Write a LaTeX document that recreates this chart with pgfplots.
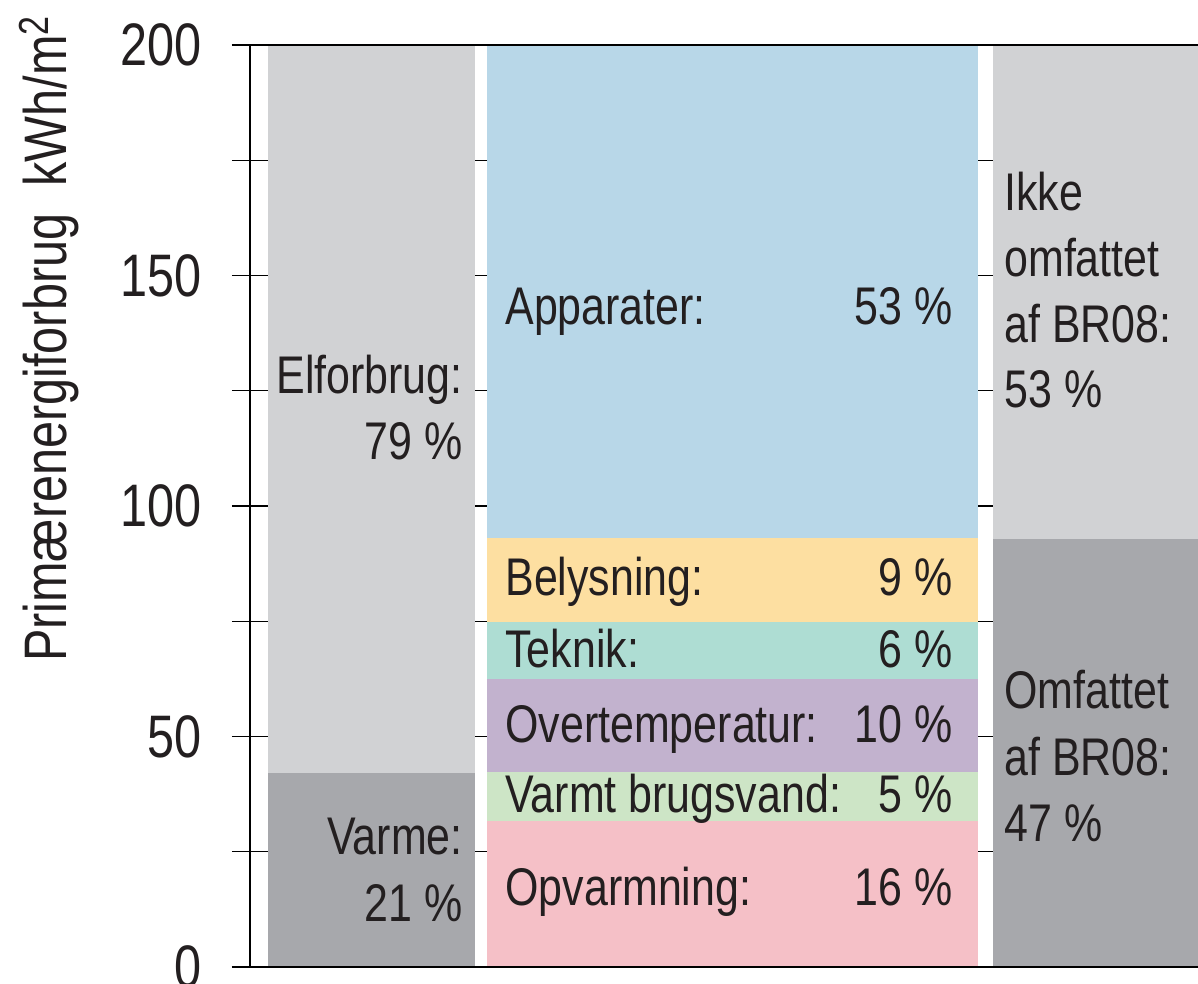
\documentclass[border=0pt]{standalone}
\usepackage{fontspec}
\setmainfont{Liberation Sans}[FakeStretch=0.81]
\usepackage{pgfplots}
\pgfplotsset{compat=1.18}
\definecolor{txt}{HTML}{231F20}
\definecolor{lgray}{HTML}{D1D2D4}
\definecolor{dgray}{HTML}{A7A8AC}
\definecolor{cblue}{HTML}{B8D7E8}
\definecolor{cyellow}{HTML}{FDDFA1}
\definecolor{cteal}{HTML}{AEDDD3}
\definecolor{cpurple}{HTML}{C2B2CE}
\definecolor{cgreen}{HTML}{CDE5C6}
\definecolor{cpink}{HTML}{F5C0C7}
\begin{document}
\begin{tikzpicture}
\begin{axis}[
  at={(0,0)}, anchor=south west,
  scale only axis, width=474pt, height=461pt,
  xmin=250, xmax=1198, ymin=0, ymax=200,
  axis x line=none, axis y line=left,
  y axis line style={-, line width=1pt, black},
  ytick={0,50,100,150,200},
  minor ytick={25,75,125,175},
  tick align=center,
  major tick length=18pt, minor tick length=18pt,
  tick style={line width=0.7pt, black},
  ymajorgrids, yminorgrids,
  major grid style={line width=0.7pt, black},
  minor grid style={line width=0.7pt, black},
  /pgf/number format/assume math mode=true,
  yticklabel style={font=\fontsize{30}{36}\selectfont, text=txt, anchor=east, inner sep=0pt, xshift=-15pt},
  clip=false,
  no markers,
  every axis plot/.append style={draw=none},
]
% column 1
\addplot[fill=dgray] coordinates {(268,0) (475,0) (475,42.1) (268,42.1)} -- cycle;
\addplot[fill=lgray] coordinates {(268,42.1) (475,42.1) (475,200) (268,200)} -- cycle;
% column 2
\addplot[fill=cpink]   coordinates {(487,0) (978,0) (978,31.7) (487,31.7)} -- cycle;
\addplot[fill=cgreen]  coordinates {(487,31.7) (978,31.7) (978,42.4) (487,42.4)} -- cycle;
\addplot[fill=cpurple] coordinates {(487,42.4) (978,42.4) (978,62.4) (487,62.4)} -- cycle;
\addplot[fill=cteal]   coordinates {(487,62.4) (978,62.4) (978,74.9) (487,74.9)} -- cycle;
\addplot[fill=cyellow] coordinates {(487,74.9) (978,74.9) (978,93.0) (487,93.0)} -- cycle;
\addplot[fill=cblue]   coordinates {(487,93.0) (978,93.0) (978,200) (487,200)} -- cycle;
% column 3
\addplot[fill=dgray] coordinates {(993,0) (1198,0) (1198,92.9) (993,92.9)} -- cycle;
\addplot[fill=lgray] coordinates {(993,92.9) (1198,92.9) (1198,200) (993,200)} -- cycle;

\draw[line width=1pt, black] (axis cs:232,200) -- (axis cs:1198,200);
\draw[line width=1pt, black] (axis cs:232,0) -- (axis cs:1198,0);

\begin{scope}[every node/.style={font=\fontsize{26.5}{33}\selectfont, text=txt, inner sep=0pt}]
\node[anchor=base east] at (axis cs:463,124.5) {Elforbrug:};
\node[anchor=base east] at (axis cs:463,110.0) {79 \%};
\node[anchor=base east] at (axis cs:463,24.3) {Varme:};
\node[anchor=base east] at (axis cs:463,9.8) {21 \%};

\node[anchor=base west] at (axis cs:505,139.3) {Apparater:};
\node[anchor=base east] at (axis cs:953,139.3) {53 \%};
\node[anchor=base west] at (axis cs:505,80.5) {Belysning:};
\node[anchor=base east] at (axis cs:953,80.5) {9 \%};
\node[anchor=base west] at (axis cs:505,64.9) {Teknik:};
\node[anchor=base east] at (axis cs:953,64.9) {6 \%};
\node[anchor=base west] at (axis cs:505,48.7) {Overtemperatur:};
\node[anchor=base east] at (axis cs:953,48.7) {10 \%};
\node[anchor=base west] at (axis cs:505,33.5) {Varmt brugsvand:};
\node[anchor=base east] at (axis cs:953,33.5) {5 \%};
\node[anchor=base west] at (axis cs:505,13.4) {Opvarmning:};
\node[anchor=base east] at (axis cs:953,13.4) {16 \%};

\node[anchor=base west] at (axis cs:1004,164.2) {Ikke};
\node[anchor=base west] at (axis cs:1004,149.7) {omfattet};
\node[anchor=base west] at (axis cs:1004,135.4) {af BR08:};
\node[anchor=base west] at (axis cs:1004,121.3) {53 \%};
\node[anchor=base west] at (axis cs:1004,56.0) {Omfattet};
\node[anchor=base west] at (axis cs:1004,41.6) {af BR08:};
\node[anchor=base west] at (axis cs:1004,27.3) {47 \%};
\end{scope}

\node[rotate=90, anchor=base east, inner sep=0pt, text=txt, font=\fontsize{30}{36}\selectfont]
  at (axis cs:67,206.5) {Primærenergiforbrug\hspace{13.5pt}kWh/m\textsuperscript{2}};
\end{axis}
\pgfresetboundingbox
\path (-125pt,-8.5pt) rectangle (474pt,483.5pt);
\end{tikzpicture}
\end{document}
